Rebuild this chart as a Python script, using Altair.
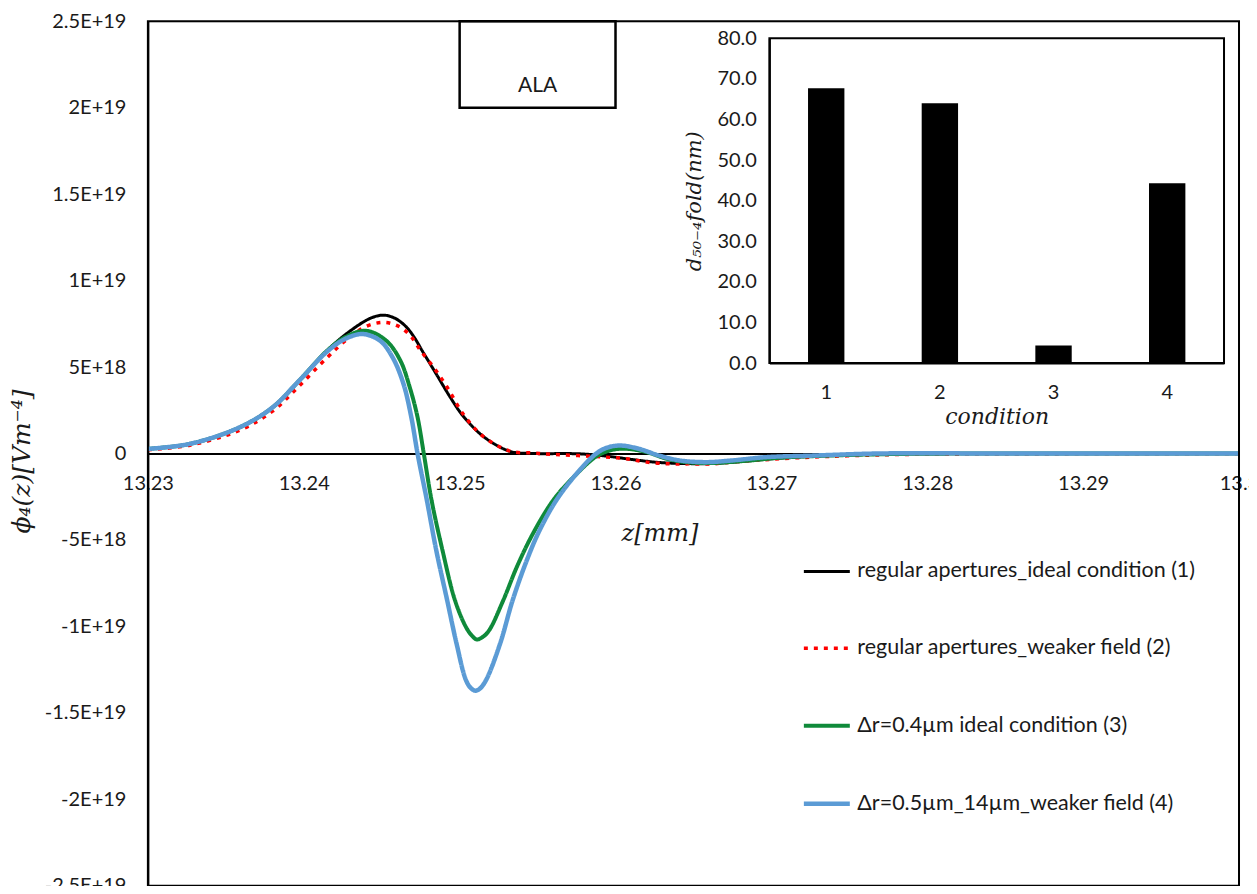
import altair as alt
import pandas as pd

# ---------------- data ----------------
SERIES = [
    "regular apertures_ideal condition (1)",
    "regular apertures_weaker field (2)",
    "Δr=0.4µm ideal condition (3)",
    "Δr=0.5µm_14µm_weaker field (4)",
]
COLORS = ["#000000", "#ff0000", "#0f8a3a", "#5b9bd5"]
DASHES = [[1, 0], [4, 6], [1, 0], [1, 0]]
WIDTHS = [3, 4.5, 3, 3.5]

# values of phi4 in units of 1E18
z1 = [13.230, 13.2327, 13.2359, 13.238, 13.2397, 13.2415, 13.2427, 13.244, 13.2446, 13.2452,
      13.2459, 13.2466, 13.2471, 13.2476, 13.2485, 13.2494, 13.2502, 13.2513, 13.2524, 13.2534,
      13.2547, 13.2577, 13.2594, 13.2611, 13.2628, 13.2645, 13.2662, 13.2684, 13.2705, 13.2737,
      13.278, 13.285, 13.300]
y1 = [0.27, 0.56, 1.52, 2.67, 4.21, 5.95, 6.9, 7.7, 7.93, 8.0,
      7.8, 7.3, 6.7, 5.94, 4.6, 3.25, 2.19, 1.15, 0.46, 0.08,
      0.0, -0.02, -0.15, -0.35, -0.52, -0.58, -0.58, -0.44, -0.27, -0.12,
      -0.03, 0.0, 0.0]

z2 = [13.230, 13.2327, 13.2359, 13.238, 13.2397, 13.2415, 13.2427, 13.244, 13.245, 13.2457,
      13.2463, 13.2469, 13.2475, 13.2484, 13.2492, 13.2502, 13.2513, 13.2524, 13.2534, 13.2547,
      13.2560, 13.2576, 13.2594, 13.2607, 13.2620, 13.2635, 13.2647, 13.2662, 13.2679, 13.2696,
      13.2716, 13.2737, 13.2763, 13.278, 13.285, 13.300]
y2 = [0.22, 0.48, 1.35, 2.45, 3.9, 5.55, 6.55, 7.35, 7.58, 7.5,
      7.25, 6.75, 5.95, 4.9, 3.83, 2.31, 1.15, 0.46, 0.1, 0.03,
      -0.05, -0.12, -0.21, -0.3, -0.5, -0.6, -0.6, -0.6, -0.46, -0.36,
      -0.25, -0.17, -0.1, -0.06, -0.03, -0.01]

z3 = [13.230, 13.2327, 13.2359, 13.238, 13.2397, 13.2415, 13.2427, 13.2440, 13.2453, 13.2462,
      13.2468, 13.2473, 13.2477, 13.2482, 13.2489, 13.2497, 13.2504, 13.2508, 13.2511, 13.2515,
      13.2519, 13.2528, 13.2537, 13.2547, 13.2560, 13.2573, 13.2588, 13.2598, 13.2607, 13.2620,
      13.2633, 13.2645, 13.2662, 13.2684, 13.2705, 13.2737, 13.278, 13.285, 13.300]
y3 = [0.27, 0.56, 1.52, 2.67, 4.21, 5.95, 6.75, 7.1, 6.52, 5.37,
      3.83, 2.1, 0.0, -2.71, -5.6, -8.49, -10.03, -10.55, -10.76, -10.6,
      -10.22, -8.49, -6.5, -4.64, -2.71, -1.37, -0.15, 0.21, 0.27, 0.08,
      -0.31, -0.5, -0.55, -0.42, -0.25, -0.12, -0.03, 0.0, 0.0]

z4 = [13.230, 13.2327, 13.2359, 13.238, 13.2397, 13.2415, 13.2427, 13.2438, 13.2449, 13.2457,
      13.2464, 13.2469, 13.2473, 13.2479, 13.2485, 13.2492, 13.2498, 13.2504, 13.2507, 13.2510,
      13.2513, 13.2517, 13.2526, 13.2534, 13.2543, 13.2551, 13.2562, 13.2575, 13.2587, 13.2594,
      13.2603, 13.2615, 13.2628, 13.2641, 13.2658, 13.2675, 13.2697, 13.2727, 13.2769, 13.285,
      13.300]
y4 = [0.27, 0.56, 1.52, 2.67, 4.21, 5.9, 6.65, 6.91, 6.52, 5.56,
      4.02, 2.1, 0.0, -2.71, -5.6, -8.49, -10.99, -13.1, -13.55, -13.72,
      -13.6, -13.1, -10.99, -8.49, -6.2, -4.5, -2.71, -1.17, -0.05, 0.32,
      0.46, 0.27, -0.12, -0.4, -0.5, -0.4, -0.21, -0.12, 0.0, 0.0,
      0.0]

X_TICKS = [13.23, 13.24, 13.25, 13.26, 13.27, 13.28, 13.29, 13.30]
Y_TICKS = [-2.5e19, -2e19, -1.5e19, -1e19, -5e18, 0, 5e18, 1e19, 1.5e19, 2e19, 2.5e19]
Y_LABELS = ["-2.5E+19", "-2E+19", "-1.5E+19", "-1E+19", "-5E+18", "0",
            "5E+18", "1E+19", "1.5E+19", "2E+19", "2.5E+19"]

# ALA box (z range, phi range) and label
ALA_Z = [13.25, 13.26]
ALA_Y = [2.0e19, 2.5e19]
ALA_TEXT = ["ALA"]
ALA_TEXT_POS = [13.255, 2.125e19]

# inset bar chart
CONDITIONS = ["1", "2", "3", "4"]
D50 = [67.7, 64.0, 4.3, 44.3]
BAR_TICKS = [0, 10, 20, 30, 40, 50, 60, 70, 80]

# ---------------- layout ----------------
W, H = 1092, 865
INSET_X = [622, 1077]   # inset plot area, relative to main plot origin
INSET_Y = [17, 342]

LABEL_FONT = "Lato"
MATH_FONT = "DejaVu Serif"
TXT = "#1a1a1a"

rows = []
for name, zs, ys in zip(SERIES, [z1, z2, z3, z4], [y1, y2, y3, y4]):
    for i, (z, y) in enumerate(zip(zs, ys)):
        rows.append({"series": name, "z": z, "phi": y * 1e18, "i": i})
lines_df = pd.DataFrame(rows)

x_main = alt.X(
    "z:Q",
    scale=alt.Scale(domain=[13.23, 13.30], nice=False, zero=False),
    axis=alt.Axis(
        values=X_TICKS, format=".2~f", orient="bottom", offset=-(H / 2),
        ticks=False, grid=False, domain=True, domainColor="black", domainWidth=2,
        labelPadding=20, labelFontSize=20, labelFont=LABEL_FONT, labelColor=TXT,
        labelFlush=False, labelOverlap=False, labelBound=False,
        title="z[mm]", titleFont=MATH_FONT, titleFontStyle="italic", titleFontWeight="normal",
        titleFontSize=24, titleColor=TXT, titleX=512, titleY=80,
        titleBaseline="middle", titleAlign="center",
    ),
)
y_label_expr = "[" + ",".join("'%s'" % s for s in Y_LABELS) + "][round(datum.value/5e18)+5]"
y_main = alt.Y(
    "phi:Q",
    scale=alt.Scale(domain=[-2.5e19, 2.5e19], nice=False),
    axis=alt.Axis(
        values=Y_TICKS, labelExpr=y_label_expr, orient="left",
        ticks=False, grid=False, domain=True, domainColor="black", domainWidth=2,
        labelPadding=22, labelFontSize=20, labelFont=LABEL_FONT, labelColor=TXT,
        labelOverlap=False, labelBound=False, labelFlush=False,
        title="ϕ₄(z)[Vm⁻⁴]", titleFont=MATH_FONT, titleFontStyle="italic", titleFontWeight="normal",
        titleFontSize=25, titleColor=TXT, titleX=-126, titleY=440,
        titleBaseline="middle", titleAlign="center", titleAngle=270,
    ),
)

lines = alt.Chart(lines_df).mark_line(interpolate="catmull-rom", strokeCap="butt").encode(
    x=x_main,
    y=y_main,
    color=alt.Color("series:N", scale=alt.Scale(domain=SERIES, range=COLORS), title=None,
                    legend=alt.Legend(orient="none", legendX=654, legendY=526, symbolType="stroke",
                                      symbolSize=2116, symbolStrokeWidth=3.5, rowPadding=41.5,
                                      labelFontSize=21.5, labelFont=LABEL_FONT, labelColor=TXT,
                                      labelLimit=600, labelOffset=5, padding=0)),
    strokeDash=alt.StrokeDash("series:N", scale=alt.Scale(domain=SERIES, range=DASHES), title=None,
                              legend=alt.Legend(orient="none", legendX=654, legendY=526)),
    strokeWidth=alt.StrokeWidth("series:N", scale=alt.Scale(domain=SERIES, range=WIDTHS), legend=None),
    order="i:Q",
)

ala_df = pd.DataFrame({"z0": [ALA_Z[0]], "z1": [ALA_Z[1]], "p0": [ALA_Y[0]], "p1": [ALA_Y[1]]})
ala_box = alt.Chart(ala_df).mark_rect(fill="white", stroke="black", strokeWidth=2.5).encode(
    x="z0:Q", x2="z1:Q", y="p0:Q", y2="p1:Q"
)
ala_txt_df = pd.DataFrame({"z": [ALA_TEXT_POS[0]], "phi": [ALA_TEXT_POS[1]], "t": ALA_TEXT})
ala_txt = alt.Chart(ala_txt_df).mark_text(font=LABEL_FONT, fontSize=21, color=TXT, baseline="middle").encode(
    x="z:Q", y="phi:Q", text="t:N"
)

main = alt.layer(lines, ala_box, ala_txt)

bar_df = pd.DataFrame({"cond": CONDITIONS, "d": D50})
bars = alt.Chart(bar_df).mark_bar(color="black").encode(
    x=alt.X("cond:O", sort=CONDITIONS,
            scale=alt.Scale(range=INSET_X, paddingInner=0.68, paddingOuter=0.34),
            axis=alt.Axis(orient="bottom", offset=-(H - INSET_Y[1]), labelAngle=0,
                          ticks=False, domain=True, domainColor="black", domainWidth=2,
                          labelPadding=19, labelFontSize=20, labelFont=LABEL_FONT, labelColor=TXT,
                          title="condition", titleFont=MATH_FONT, titleFontStyle="italic",
                          titleFontWeight="normal", titleFontSize=22, titleColor=TXT, titlePadding=4)),
    y=alt.Y("d:Q",
            scale=alt.Scale(domain=[0, 80], range=[INSET_Y[1], INSET_Y[0]], nice=False),
            axis=alt.Axis(orient="left", offset=-INSET_X[0], values=BAR_TICKS, format=".1f",
                          ticks=False, grid=False, domain=True, domainColor="black", domainWidth=2,
                          labelPadding=13, labelFontSize=20, labelFont=LABEL_FONT, labelColor=TXT,
                          title="d₅₀₋₄fold(nm)", titleFont=MATH_FONT, titleFontStyle="italic",
                          titleFontWeight="normal", titleFontSize=21, titleColor=TXT, titlePadding=12)),
)
frame_df = pd.DataFrame({"k": [0]})
inset_frame = alt.Chart(frame_df).mark_rect(fillOpacity=0, stroke="black", strokeWidth=2).encode(
    x=alt.value(INSET_X[0]), x2=alt.value(INSET_X[1]), y=alt.value(INSET_Y[0]), y2=alt.value(INSET_Y[1])
)
outer_frame = alt.Chart(frame_df).mark_rect(fillOpacity=0, stroke="black", strokeWidth=2).encode(
    x=alt.value(0), x2=alt.value(W), y=alt.value(0), y2=alt.value(H)
)
inset = alt.layer(inset_frame, outer_frame, bars)

chart = alt.layer(main, inset).resolve_scale(
    x="independent", y="independent"
).properties(
    width=W, height=H,
    autosize=alt.AutoSizeParams(type="none"),
    padding={"left": 140, "top": 13, "right": 10, "bottom": 0},
).configure_view(
    stroke="black", strokeWidth=2
).configure(background="white")

chart.save("out.html", embed_options={"renderer": "svg", "actions": False})
